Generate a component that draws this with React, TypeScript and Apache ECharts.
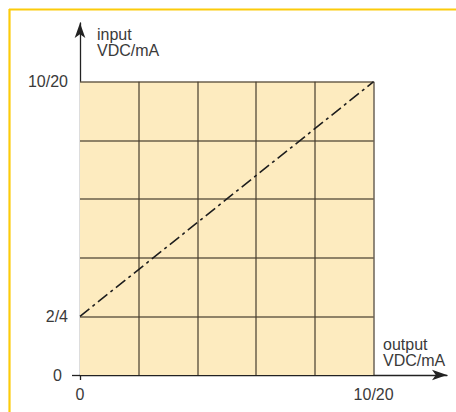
import React, { useEffect, useRef } from "react";
import * as echarts from "echarts";

const xGridValues = [0, 2, 4, 6, 8, 10];
const yGridValues = [0, 2, 4, 6, 8, 10];
const xLabelValues = [0, 10];
const xLabelTexts = ["0", "10/20"];
const yLabelValues = [0, 2, 10];
const yLabelTexts = ["0", "2/4", "10/20"];
const lineData = [
  [0, 2],
  [10, 10],
];
const yAxisName = "input\nVDC/mA";
const xAxisName = "output\nVDC/mA";

const FONT = "Liberation Sans, Arial, Helvetica, sans-serif";
const TEXT_COLOR = "#3a3a3a";
const GRID_COLOR = "rgba(70,60,45,0.8)";

export default function App() {
  const ref = useRef<HTMLDivElement>(null);
  useEffect(() => {
    if (!ref.current) return;
    const chart = echarts.init(ref.current, null, { renderer: "svg" });
    const xMax = xGridValues[xGridValues.length - 1];
    const yMax = yGridValues[yGridValues.length - 1];
    const gridLines: any[] = [];
    xGridValues.slice(1).forEach((v) => {
      gridLines.push([{ coord: [v, 0] }, { coord: [v, yMax] }]);
    });
    yGridValues.slice(1).forEach((v) => {
      gridLines.push([{ coord: [0, v] }, { coord: [xMax, v] }]);
    });
    chart.setOption({
      animation: false,
      grid: { left: 80, top: 23, right: 9, bottom: 37 },
      xAxis: {
        type: "value",
        min: 0,
        max: 12.5,
        splitLine: { show: false },
        axisLine: {
          show: true,
          symbol: ["none", "arrow"],
          symbolSize: [8, 15],
          lineStyle: { color: "#222", width: 1.3 },
        },
        axisTick: {
          show: true,
          customValues: [0],
          length: 5,
          lineStyle: { color: "#222", width: 1.3 },
        },
        axisLabel: {
          customValues: xLabelValues,
          formatter: (v: number) => xLabelTexts[xLabelValues.indexOf(v)] ?? "",
          margin: 11,
          fontFamily: FONT,
          fontSize: 16,
          color: TEXT_COLOR,
        },
      },
      yAxis: {
        type: "value",
        min: 0,
        max: 12,
        splitLine: { show: false },
        axisLine: {
          show: true,
          symbol: ["none", "arrow"],
          symbolSize: [8, 15],
          lineStyle: { color: "#222", width: 1.3 },
        },
        axisTick: {
          show: true,
          customValues: [0],
          length: 8,
          lineStyle: { color: "#222", width: 1.3 },
        },
        axisLabel: {
          customValues: yLabelValues,
          formatter: (v: number) => {
            const t = yLabelTexts[yLabelValues.indexOf(v)] ?? "";
            return v === 0 ? "{z|" + t + "}" : t;
          },
          rich: {
            z: {
              padding: [0, 6, 0, 0],
              fontFamily: FONT,
              fontSize: 16,
              color: TEXT_COLOR,
            },
          },
          margin: 12,
          fontFamily: FONT,
          fontSize: 16,
          color: TEXT_COLOR,
        },
      },
      graphic: [
        {
          type: "line",
          shape: { x1: 9, y1: 9.5, x2: 456, y2: 9.5 },
          style: { stroke: "#fccb0c", lineWidth: 2.2 },
        },
        {
          type: "line",
          shape: { x1: 9.5, y1: 9, x2: 9.5, y2: 412 },
          style: { stroke: "#fccb0c", lineWidth: 2.2 },
        },
        {
          type: "text",
          left: 97,
          top: 26,
          style: {
            text: yAxisName,
            font: "16px " + FONT,
            fill: TEXT_COLOR,
            lineHeight: 16,
          },
        },
        {
          type: "text",
          left: 383,
          top: 336,
          style: {
            text: xAxisName,
            font: "16px " + FONT,
            fill: TEXT_COLOR,
            lineHeight: 16,
          },
        },
      ],
      series: [
        {
          type: "scatter",
          data: [],
          z: 1,
          silent: true,
          markArea: {
            silent: true,
            itemStyle: { color: "#fdebbf" },
            data: [[{ coord: [0, 0] }, { coord: [xMax, yMax] }]],
          },
          markLine: {
            silent: true,
            symbol: ["none", "none"],
            label: { show: false },
            lineStyle: { color: GRID_COLOR, width: 1.5, type: "solid" },
            data: gridLines,
          },
        },
        {
          type: "line",
          z: 5,
          data: lineData,
          symbol: "none",
          silent: true,
          lineStyle: { color: "#1e1e1e", width: 1.6, type: [12, 4, 3, 4] },
        },
      ],
    });
    return () => chart.dispose();
  }, []);
  return (
    <div
      ref={ref}
      style={{ position: "fixed", left: 0, top: 0, width: 456, height: 412, background: "#fff" }}
    />
  );
}
